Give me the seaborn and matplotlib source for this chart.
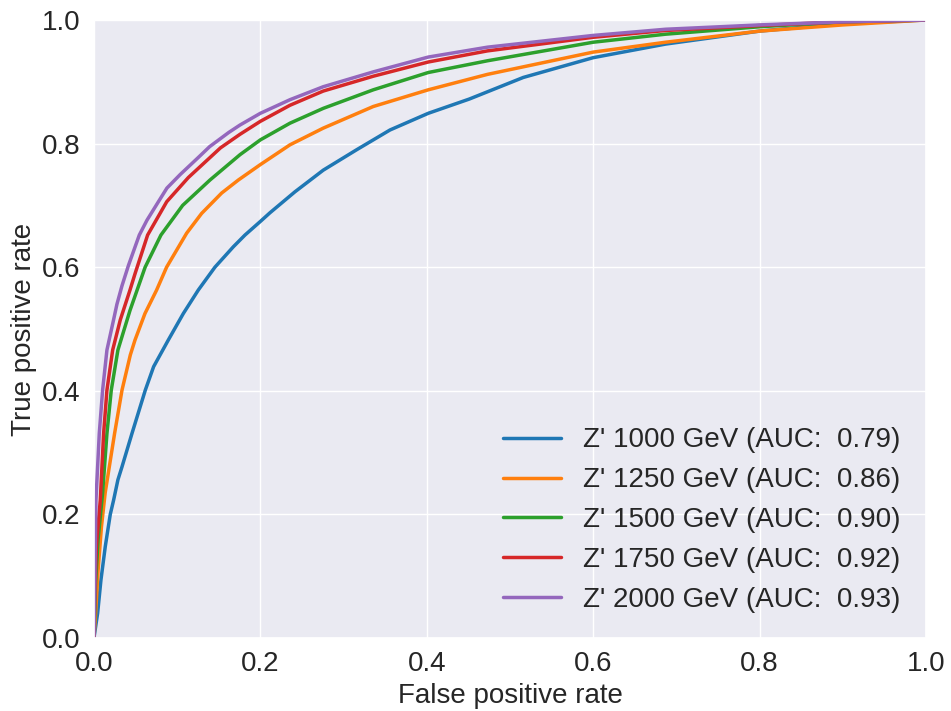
import matplotlib
matplotlib.use("Agg")
import matplotlib.pyplot as plt
import seaborn as sns

# ROC curves for the Z' mass points
masses = ["1000", "1250", "1500", "1750", "2000"]
aucs = ["0.79", "0.86", "0.90", "0.92", "0.93"]

fpr_1000 = [0, 0.0044, 0.0084, 0.0136, 0.0196, 0.0236, 0.0288, 0.0337, 0.0457, 0.0617,
            0.0717, 0.0893, 0.1074, 0.1254, 0.1454, 0.1675, 0.1815, 0.2, 0.2115,
            0.2416, 0.2756, 0.3157, 0.3558, 0.4018, 0.451, 0.516, 0.6, 0.687, 0.8, 0.9, 1.0]
tpr_1000 = [0, 0.040, 0.094, 0.148, 0.2, 0.223, 0.256, 0.277, 0.331, 0.401,
            0.439, 0.482, 0.525, 0.563, 0.6, 0.633, 0.652, 0.674, 0.688,
            0.722, 0.757, 0.790, 0.822, 0.849, 0.872, 0.907, 0.939, 0.961, 0.982, 0.994, 1.0]

fpr_1250 = [0, 0.002, 0.005, 0.009, 0.0135, 0.0248, 0.0337, 0.0437, 0.0493, 0.0613,
            0.0753, 0.0873, 0.1114, 0.1294, 0.1535, 0.1735, 0.2, 0.2356, 0.2756, 0.3357,
            0.4018, 0.473, 0.6, 0.687, 0.8, 0.9, 1.0]
tpr_1250 = [0, 0.04, 0.11, 0.18, 0.235, 0.331, 0.401, 0.458, 0.482, 0.525,
            0.563, 0.6, 0.655, 0.687, 0.720, 0.741, 0.766, 0.798, 0.825, 0.860,
            0.887, 0.912, 0.948, 0.964, 0.982, 0.992, 1.0]

fpr_1500 = [0, 0.002, 0.005, 0.0104, 0.0156, 0.0208, 0.0288, 0.0433, 0.0615, 0.0805,
            0.1066, 0.1394, 0.1755, 0.2, 0.2356, 0.2756, 0.3357, 0.4018, 0.473,
            0.6, 0.687, 0.8, 0.9, 1.0]
tpr_1500 = [0, 0.09, 0.16, 0.235, 0.331, 0.401, 0.466, 0.530, 0.6, 0.652,
            0.700, 0.741, 0.782, 0.806, 0.833, 0.857, 0.887, 0.915, 0.934,
            0.964, 0.977, 0.989, 0.997, 1.0]

fpr_1750 = [0, 0.001, 0.003, 0.0076, 0.0116, 0.0156, 0.0225, 0.0317, 0.0433, 0.0495,
            0.0645, 0.0875, 0.1134, 0.152, 0.1755, 0.2, 0.2356, 0.2756, 0.3357, 0.4018,
            0.473, 0.6, 0.687, 0.8, 0.9, 1.0]
tpr_1750 = [0, 0.07, 0.15, 0.223, 0.331, 0.401, 0.466, 0.515, 0.563, 0.59,
            0.652, 0.706, 0.745, 0.793, 0.815, 0.836, 0.862, 0.885, 0.909, 0.932,
            0.950, 0.972, 0.983, 0.991, 0.997, 1.0]

fpr_2000 = [0, 0.001, 0.0024, 0.0064, 0.0104, 0.0156, 0.0236, 0.0276, 0.0337, 0.0415,
            0.0545, 0.0637, 0.0775, 0.0877, 0.1037, 0.1258, 0.139, 0.162, 0.1755,
            0.2, 0.2356, 0.2756, 0.3357, 0.4018, 0.473, 0.6, 0.687, 0.8, 0.9, 1.0]
tpr_2000 = [0, 0.09, 0.223, 0.331, 0.401, 0.466, 0.515, 0.54, 0.57, 0.603,
            0.652, 0.676, 0.706, 0.728, 0.750, 0.778, 0.795, 0.818, 0.830,
            0.849, 0.871, 0.892, 0.916, 0.940, 0.956, 0.975, 0.985, 0.992, 0.997, 1.0]

fprs = [fpr_1000, fpr_1250, fpr_1500, fpr_1750, fpr_2000]
tprs = [tpr_1000, tpr_1250, tpr_1500, tpr_1750, tpr_2000]

sns.set_theme(style="darkgrid")
plt.rcParams["font.family"] = ["Liberation Sans", "DejaVu Sans"]

colors = sns.color_palette("tab10", len(masses))

fig, ax = plt.subplots(figsize=(9.51, 7.11), dpi=100)
fig.subplots_adjust(left=0.0988, right=0.9737, bottom=0.1027, top=0.9719)

for mass, auc, fpr, tpr, col in zip(masses, aucs, fprs, tprs, colors):
    sns.lineplot(x=fpr, y=tpr, ax=ax, sort=False, estimator=None, color=col,
                 linewidth=2.5, label=f"Z' {mass} GeV (AUC:  {auc})")

ax.set_xlim(0, 1)
ax.set_ylim(0, 1)
ax.set_xticks([0, 0.2, 0.4, 0.6, 0.8, 1.0])
ax.set_yticks([0, 0.2, 0.4, 0.6, 0.8, 1.0])
ax.tick_params(labelsize=20)
ax.set_xlabel("False positive rate", fontsize=20)
ax.set_ylabel("True positive rate", fontsize=20)
ax.legend(loc="lower right", fontsize=20, frameon=False, handlelength=2.1)

fig.savefig("out.png", dpi=100)
